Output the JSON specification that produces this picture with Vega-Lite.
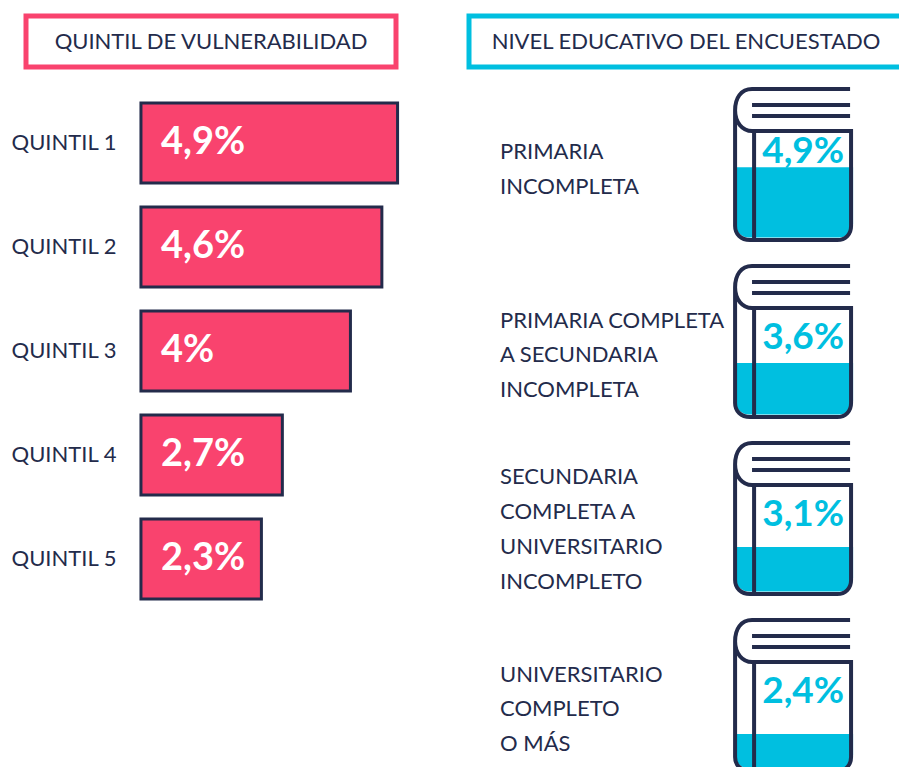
{
"$schema":"https://vega.github.io/schema/vega-lite/v6.json",
"padding":{"left":10,"top":13,"right":0,"bottom":0},
"background":"white",
"config":{"view":{"stroke":null},"font":"Lato"},
"datasets":{
"quintil":[{"q":"QUINTIL 1","v":4.9,"l":"4,9%"},{"q":"QUINTIL 2","v":4.6,"l":"4,6%"},{"q":"QUINTIL 3","v":4.0,"l":"4%"},{"q":"QUINTIL 4","v":2.7,"l":"2,7%"},{"q":"QUINTIL 5","v":2.3,"l":"2,3%"}],
"nivel":[{"n":"PRIMARIA|INCOMPLETA","v":4.9,"l":"4,9%","o":1},{"n":"PRIMARIA COMPLETA|A SECUNDARIA|INCOMPLETA","v":3.6,"l":"3,6%","o":2},{"n":"SECUNDARIA|COMPLETA A|UNIVERSITARIO|INCOMPLETO","v":3.1,"l":"3,1%","o":3},{"n":"UNIVERSITARIO|COMPLETO|O MÁS","v":2.4,"l":"2,4%","o":4}]
},
"hconcat":[
{"bounds":"flush","vconcat":[
 {"width":370,"height":51,"view":{"stroke":"#f9436e","strokeWidth":5},
  "data":{"values":[{"t":"QUINTIL DE VULNERABILIDAD"}]},
  "mark":{"type":"text","fontSize":22,"color":"#232b4b"},
  "encoding":{"text":{"field":"t"}}},
 {"width":370,"height":520,"data":{"name":"quintil"},
  "encoding":{"y":{"field":"q","type":"nominal","sort":null,
     "scale":{"paddingInner":0.2308,"paddingOuter":0.1154},
     "axis":{"title":null,"domain":false,"ticks":false,"offset":-90,"labelPadding":0,"labelFontSize":22,"labelColor":"#232b4b","labelFont":"Lato"}}},
  "layer":[
   {"mark":{"type":"bar","fill":"#f9436e","stroke":"#232b4b","strokeWidth":3},
    "encoding":{"x":{"field":"v","type":"quantitative","axis":null,"scale":{"domain":[-2.195,4.87],"nice":false,"zero":false}}}},
   {"mark":{"type":"text","align":"left","dx":20,"fontSize":38,"fontWeight":"bold","color":"white"},
    "encoding":{"x":{"datum":0,"type":"quantitative"},"text":{"field":"l"}}}
  ]}
 ],"spacing":24},
{"bounds":"flush","vconcat":[
 {"width":434,"height":51,"view":{"stroke":"#00bfe0","strokeWidth":5},
  "data":{"values":[{"t":"NIVEL EDUCATIVO DEL ENCUESTADO"}]},
  "mark":{"type":"text","fontSize":22,"color":"#232b4b"},
  "encoding":{"text":{"field":"t"}}},
 {"data":{"name":"nivel"},
  "facet":{"row":{"field":"o","type":"ordinal","header":null}},
  "spacing":25,
  "bounds":"flush",
  "spec":{"width":434,"height":152,
   "layer":[
    {"mark":{"type":"rect","fill":"#00bfe0","cornerRadiusBottomLeft":14,"cornerRadiusBottomRight":14},
     "encoding":{"x":{"datum":0.613,"type":"quantitative","axis":null,"scale":{"domain":[0,1],"nice":false}},"x2":{"datum":0.885},
       "y":{"field":"v","type":"quantitative","axis":null,"scale":{"domain":[-0.25,10.38],"nice":false,"zero":false}},"y2":{"datum":0}}},
    {"mark":{"type":"point","shape":"M.737 -1L-.553 -1C-.7 -1 -.776 -.88 -.776 -.72C-.776 -.56 -.68 -.447 -.553 -.447L.75 -.447L.75 .803C.75 .91 .68 .987 .566 .987L-.579 .987C-.7 .987 -.776 .91 -.776 .803L-.776 -.72M-.526 -.447L-.526 .974M-.553 -.789L.737 -.789M-.553 -.645L.737 -.645","size":23104,"stroke":"#232b4b","strokeWidth":4,"fill":"transparent","opacity":1},
     "encoding":{"x":{"datum":0.749,"type":"quantitative"},"y":{"datum":5.065,"type":"quantitative"}}},
    {"transform":[{"calculate":"datum.v>4?5.98:5.37","as":"ty"}],
     "mark":{"type":"text","fontSize":37,"fontWeight":"bold","color":"#00bfe0"},
     "encoding":{"x":{"datum":0.77,"type":"quantitative"},"y":{"field":"ty","type":"quantitative"},"text":{"field":"l"}}},
    {"transform":[{"calculate":"length(split(datum.n,'|'))","as":"lines"},{"calculate":"datum.lines==2?5.97:datum.lines==3?6.55:7.97","as":"ly"}],
     "mark":{"type":"text","align":"left","fontSize":22,"lineHeight":34.7,"lineBreak":"|","color":"#232b4b"},
     "encoding":{"x":{"datum":0.0714,"type":"quantitative"},"y":{"field":"ly","type":"quantitative"},"text":{"field":"n"}}}
   ]}}
 ],"spacing":22}
],"spacing":66}
